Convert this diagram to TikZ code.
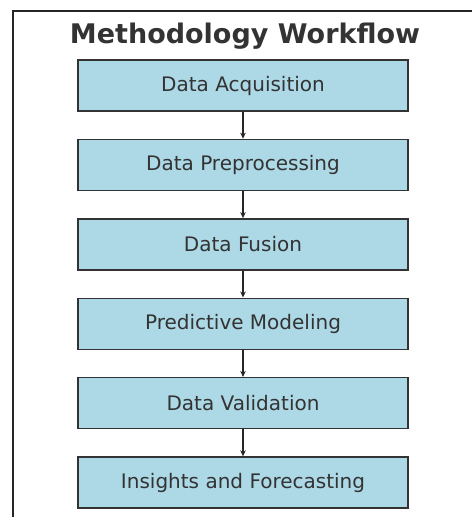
\documentclass[tikz,border=0pt]{standalone}
\usepackage{fontspec}
\setmainfont{DejaVu Sans}
\usepackage{tikz}
\usetikzlibrary{positioning,arrows.meta}
\usepackage{xcolor}
\definecolor{stepfill}{RGB}{173,216,230}
\definecolor{inkgray}{RGB}{51,51,51}

\begin{document}
\begin{tikzpicture}[
  x=1pt, y=-1pt,
  stepbox/.style={rectangle, draw=black!80, fill=stepfill, line width=1.4pt,
                  minimum width=330pt, minimum height=51pt,
                  font=\fontsize{20}{24}\selectfont, text=inkgray},
  flow/.style={-{Stealth[length=6pt,width=5.5pt]}, line width=1.1pt, black!85},
  node distance=27pt,
]
\useasboundingbox (0,0) rectangle (472,517);
%─── Frame (cut at the page edge) ───────────────────────────────────────────
\draw[line width=1.2pt, black!85] (13,517) -- (13,11) -- (472,11);
%─── Title ──────────────────────────────────────────────────────────────────
\node[anchor=base, text=inkgray, font=\fontsize{27}{32}\bfseries\selectfont]
  (title) at (245,43) {Methodology Workflow};
%─── Steps ──────────────────────────────────────────────────────────────────
\node[stepbox] (acq) at (243,85.5) {Data Acquisition};
\node[stepbox, below=of acq]  (prep) {Data Preprocessing};
\node[stepbox, below=of prep] (fus)  {Data Fusion};
\node[stepbox, below=of fus]  (model){Predictive Modeling};
\node[stepbox, below=of model](valid){Data Validation};
\node[stepbox, below=of valid](fcst) {Insights and Forecasting};
%─── Arrows ─────────────────────────────────────────────────────────────────
\draw[flow] (acq)   -- (prep);
\draw[flow] (prep)  -- (fus);
\draw[flow] (fus)   -- (model);
\draw[flow] (model) -- (valid);
\draw[flow] (valid) -- (fcst);
\end{tikzpicture}
\end{document}
